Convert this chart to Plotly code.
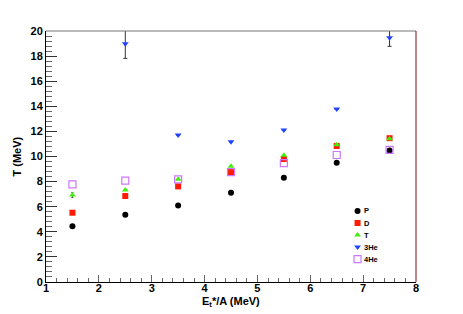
import plotly.graph_objects as go

x_vals = [1.5, 2.5, 3.5, 4.5, 5.5, 6.5, 7.5]
t_p = [4.45, 5.35, 6.1, 7.12, 8.31, 9.51, 10.47]
t_d = [5.52, 6.85, 7.62, 8.76, 9.8, 10.84, 11.46]
t_t = [6.93, 7.33, 8.18, 9.22, 10.09, 10.94, 11.42]
t_t_err = [0.2, 0, 0, 0, 0, 0, 0]
t_3he = [None, 18.99, 11.71, 11.18, 12.11, 13.78, 19.47]
t_3he_err = [0, 1.17, 0, 0, 0, 0, 0.69]
t_4he = [7.78, 8.07, 8.18, 8.76, 9.48, 10.12, 10.52]

series_names = ["P", "D", "T", "3He", "4He"]
x_ticks = [1, 2, 3, 4, 5, 6, 7, 8]
y_ticks = [0, 2, 4, 6, 8, 10, 12, 14, 16, 18, 20]

FONT = "Liberation Sans"

styles = {
    "P": dict(symbol="circle", size=6, color="black"),
    "D": dict(symbol="square", size=6, color="#ff1a00"),
    "T": dict(symbol="triangle-up", size=6, color="#44ee11"),
    "3He": dict(symbol="triangle-down", size=6, color="#2244ff"),
    "4He": dict(symbol="square-open", size=7, color="#cc77ff", line=dict(width=1.2)),
}

fig = go.Figure()
fig.add_trace(go.Scatter(x=x_vals, y=t_p, mode="markers", name="P",
                         marker=styles["P"], showlegend=False))
fig.add_trace(go.Scatter(x=x_vals, y=t_d, mode="markers", name="D",
                         marker=styles["D"], showlegend=False))
fig.add_trace(go.Scatter(x=x_vals, y=t_t, mode="markers", name="T",
                         error_y=dict(type="data", array=t_t_err, color="#555555", thickness=1, width=1),
                         marker=styles["T"], showlegend=False))
fig.add_trace(go.Scatter(x=x_vals, y=t_3he, mode="markers", name="3He",
                         error_y=dict(type="data", array=t_3he_err, color="#333333", thickness=1, width=2),
                         marker=styles["3He"], showlegend=False))
fig.add_trace(go.Scatter(x=x_vals, y=t_4he, mode="markers", name="4He",
                         marker=styles["4He"], showlegend=False))

# compact legend on an overlay axis (0..1 coordinates)
leg_x = 0.842
leg_y0 = 0.283
leg_step = 0.048
for i, name in enumerate(series_names):
    yy = leg_y0 - i * leg_step
    fig.add_trace(go.Scatter(x=[leg_x], y=[yy], mode="markers", marker=styles[name],
                             xaxis="x2", yaxis="y2", showlegend=False, hoverinfo="skip"))
    fig.add_annotation(x=leg_x + 0.012, y=yy, xref="x2", yref="y2", text=name,
                       showarrow=False, xanchor="left", yanchor="middle",
                       font=dict(size=7.5, family=FONT, weight="bold", color="black"))

# axis titles
fig.add_annotation(x=0.5, y=-0.078, xref="paper", yref="paper", showarrow=False,
                   text="E<sub>t</sub>*/A (MeV)", xanchor="center", yanchor="middle",
                   font=dict(size=11, family=FONT, weight="bold", color="black"))
fig.add_annotation(x=-0.081, y=0.5, xref="paper", yref="paper", showarrow=False,
                   text="T (MeV)", textangle=-90, xanchor="center", yanchor="middle",
                   font=dict(size=11, family=FONT, weight="bold", color="black"))

# page body has an 8px default margin, so the plot box is shifted up/left to compensate
fig.update_layout(
    width=455, height=306,
    margin=dict(l=38, r=47, t=23, b=32),
    paper_bgcolor="white", plot_bgcolor="white",
    font=dict(family=FONT, size=10, color="black", weight="bold"),
    showlegend=False,
    xaxis=dict(range=[1, 8], tickvals=x_ticks, ticks="inside", ticklen=7,
               tickcolor="#666666", showgrid=False, zeroline=False, automargin=False,
               showline=True, linecolor="black", linewidth=1, ticklabelstandoff=-4,
               minor=dict(dtick=0.2, ticks="inside", ticklen=4, tickcolor="#666666"),
               tickfont=dict(size=11, family=FONT, weight="bold")),
    yaxis=dict(range=[0, 20], tickvals=y_ticks, ticks="inside", ticklen=11,
               tickcolor="#333333", showgrid=False, zeroline=True, automargin=False,
               zerolinecolor="#e07070", zerolinewidth=1,
               showline=True, linecolor="black", linewidth=1,
               minor=dict(dtick=0.4, ticks="inside", ticklen=6, tickcolor="#666666"),
               tickfont=dict(size=11, family=FONT, weight="bold")),
    xaxis2=dict(overlaying="x", range=[0, 1], visible=False, fixedrange=True),
    yaxis2=dict(overlaying="y", range=[0, 1], visible=False, fixedrange=True),
)

fig.add_shape(type="line", xref="paper", yref="paper", x0=0, x1=1, y0=1, y1=1,
              line=dict(color="#777777", width=1.2))
fig.add_shape(type="line", xref="paper", yref="paper", x0=1, x1=1, y0=0, y1=1,
              line=dict(color="#8a3a3a", width=1.2))

fig.write_html("out.html")
